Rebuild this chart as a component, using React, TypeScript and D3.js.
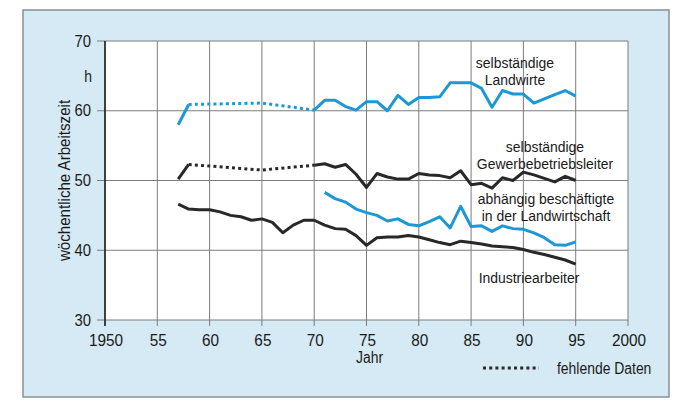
import React from "react";
import * as d3 from "d3";

const years = d3.range(1957, 1996);

// selbständige Landwirte (null = fehlende Daten)
const landwirte: (number | null)[] = [
  58.0, 60.9, null, null, null, null, null, null, 61.1, null, null, null, null,
  60.1, 61.5, 61.5, 60.6, 60.1, 61.3, 61.3, 60.0, 62.2, 60.9, 61.9, 61.9, 62.0,
  64.0, 64.0, 64.0, 63.2, 60.5, 62.9, 62.4, 62.4, 61.1, 61.7, 62.3, 62.9, 62.1,
];

// selbständige Gewerbebetriebsleiter
const gewerbe: (number | null)[] = [
  50.2, 52.3, null, null, null, null, null, null, 51.5, null, null, null, null,
  52.2, 52.4, 51.9, 52.3, 50.9, 49.0, 51.0, 50.5, 50.2, 50.2, 51.0, 50.8, 50.7,
  50.4, 51.4, 49.4, 49.6, 48.9, 50.4, 50.0, 51.2, 50.8, 50.3, 49.8, 50.6, 50.0,
];

// abhängig Beschäftigte in der Landwirtschaft
const abhaengig: (number | null)[] = [
  null, null, null, null, null, null, null, null, null, null, null, null, null,
  null, 48.3, 47.4, 46.9, 45.9, 45.4, 45.0, 44.2, 44.5, 43.7, 43.5, 44.1, 44.8,
  43.2, 46.3, 43.4, 43.5, 42.7, 43.5, 43.1, 43.0, 42.5, 41.8, 40.8, 40.7, 41.2,
];

// Industriearbeiter
const industrie: (number | null)[] = [
  46.6, 45.9, 45.8, 45.8, 45.5, 45.0, 44.8, 44.3, 44.5, 44.0, 42.5, 43.6, 44.3,
  44.3, 43.6, 43.1, 43.0, 42.1, 40.7, 41.8, 41.9, 41.9, 42.1, 41.9, 41.5, 41.1,
  40.8, 41.3, 41.1, 40.9, 40.6, 40.5, 40.4, 40.1, 39.7, 39.4, 39.0, 38.6, 38.0,
];

const xTicks = [1950, 1955, 1960, 1965, 1970, 1975, 1980, 1985, 1990, 1995, 2000];
const xTickLabels = ["1950", "55", "60", "65", "70", "75", "80", "85", "90", "95", "2000"];
const yTicks = [30, 40, 50, 60, 70];

const BLUE = "#1d98d5";
const BLACK = "#282828";
const FONT = "'Liberation Sans', Arial, sans-serif";

type P = { year: number; value: number | null };

function toPoints(vals: (number | null)[]): P[] {
  return years.map((year, i) => ({ year, value: vals[i] }));
}

// points spanning the gaps (last known before gap ... first known after gap)
function gapPoints(pts: P[]): P[] {
  const idx = pts.map((p, i) => (p.value == null ? i : -1)).filter((i) => i >= 0);
  if (!idx.length) return [];
  const lo = idx[0] - 1;
  const hi = idx[idx.length - 1] + 1;
  return pts.slice(lo, hi + 1).filter((p) => p.value != null);
}

// narrow text: Liberation Sans compressed horizontally
function T(props: {
  x: number;
  y: number;
  anchor?: "start" | "middle" | "end";
  size?: number;
  sx?: number;
  rotate?: number;
  children: React.ReactNode;
}) {
  const { x, y, anchor = "start", size = 16, sx = 0.87, rotate = 0, children } = props;
  return (
    <g transform={`translate(${x},${y}) rotate(${rotate}) scale(${sx},1)`}>
      <text x={0} y={0} textAnchor={anchor} fontFamily={FONT} fontSize={size} fill="#1a1a1a">
        {children}
      </text>
    </g>
  );
}

export default function App() {
  const W = 700;
  const H = 420;
  const x = d3.scaleLinear().domain([1950, 2000]).range([105, 628]);
  const y = d3.scaleLinear().domain([30, 70]).range([320, 41]);

  const line = d3
    .line<P>()
    .defined((d) => d.value != null)
    .x((d) => x(d.year))
    .y((d) => y(d.value as number));

  const series = [
    { vals: landwirte, color: BLUE },
    { vals: gewerbe, color: BLACK },
    { vals: abhaengig, color: BLUE },
    { vals: industrie, color: BLACK },
  ];

  const LS = 15;
  const LX = 0.93;

  return (
    <svg width={W} height={H} style={{ position: "absolute", left: 0, top: 0 }}>
      <rect x={0} y={0} width={W} height={H} fill="#ffffff" />
      <rect x={23} y={10} width={646} height={387} fill="#d5eaf4" stroke="#8a8f92" strokeWidth={1.5} />
      <rect x={x(1950)} y={y(70)} width={x(2000) - x(1950)} height={y(30) - y(70)} fill="#ffffff" />

      {/* grid */}
      {xTicks.map((t) => (
        <line key={"gx" + t} x1={x(t)} x2={x(t)} y1={y(70)} y2={y(30) + 6} stroke="#7c7c7c" strokeWidth={1} />
      ))}
      {yTicks.map((t) => (
        <line key={"gy" + t} x1={x(1950) - 8} x2={x(2000)} y1={y(t)} y2={y(t)} stroke="#7c7c7c" strokeWidth={1} />
      ))}
      <line x1={x(1950)} x2={x(1950)} y1={y(70)} y2={y(30) + 6} stroke="#222" strokeWidth={1.6} />

      {/* series */}
      {series.map((s, i) => {
        const pts = toPoints(s.vals);
        const gp = gapPoints(pts);
        return (
          <g key={i}>
            <path d={line(pts) || ""} fill="none" stroke={s.color} strokeWidth={3} strokeLinejoin="round" />
            {gp.length > 0 && (
              <path d={line(gp) || ""} fill="none" stroke={s.color} strokeWidth={3} strokeDasharray="3,3.2" />
            )}
          </g>
        );
      })}

      {/* y tick labels */}
      {yTicks.map((t) => (
        <T key={"yl" + t} x={91} y={y(t) + 5.5} anchor="end" size={16.5} sx={0.9}>
          {t}
        </T>
      ))}
      <T x={88} y={82} anchor="middle" size={16}>h</T>
      <T x={70} y={y(50)} anchor="middle" rotate={-90} size={16} sx={0.945}>
        wöchentliche Arbeitszeit
      </T>

      {/* x tick labels */}
      {xTicks.map((t, i) => (
        <T key={"xl" + t} x={x(t) + 1} y={346} anchor="middle" size={16.5} sx={0.93}>
          {xTickLabels[i]}
        </T>
      ))}
      <T x={x(1975) + 3} y={363} anchor="middle" size={16}>Jahr</T>

      {/* series labels */}
      <T x={515} y={68} anchor="middle" size={LS} sx={LX}>selbständige</T>
      <T x={515} y={85} anchor="middle" size={LS} sx={LX}>Landwirte</T>
      <T x={545} y={152} anchor="middle" size={LS} sx={LX}>selbständige</T>
      <T x={545} y={169} anchor="middle" size={LS} sx={LX}>Gewerbebetriebsleiter</T>
      <T x={546} y={204} anchor="middle" size={LS} sx={LX}>abhängig beschäftigte</T>
      <T x={546} y={221} anchor="middle" size={LS} sx={LX}>in der Landwirtschaft</T>
      <T x={529} y={283} anchor="middle" size={LS} sx={LX}>Industriearbeiter</T>

      {/* legend */}
      <line x1={483} x2={539} y1={368} y2={368} stroke={BLACK} strokeWidth={3} strokeDasharray="3,3.2" />
      <T x={557} y={374}>fehlende Daten</T>
    </svg>
  );
}
